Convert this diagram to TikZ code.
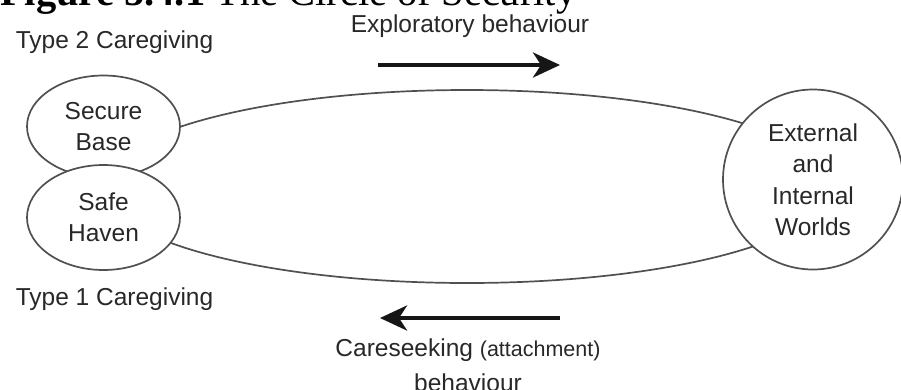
\documentclass[tikz,border=0pt]{standalone}
\usepackage{fontspec}
\setmainfont{Liberation Sans}
\newfontfamily\titlefont{Liberation Serif}
\usetikzlibrary{arrows.meta,shapes.geometric}
\definecolor{txtgray}{RGB}{40,40,40}
\definecolor{linegray}{RGB}{80,80,80}
\definecolor{arrowblack}{RGB}{22,22,22}
\begin{document}
\begin{tikzpicture}[x=1pt,y=-1pt,
  lbl/.style={font=\fontsize{24.5}{31}\selectfont, text=txtgray, inner sep=0pt},
  bubble/.style={ellipse, draw=linegray, line width=1.7pt, fill=white,
    inner sep=0pt, font=\fontsize{24.5}{31}\selectfont, text=txtgray, align=center},
  flow/.style={draw=arrowblack, line width=4pt,
    -{Stealth[length=27pt,width=25pt,inset=8pt]}},
]
% canvas
\fill[white] (0,0) rectangle (901,389);
\useasboundingbox (0,0) rectangle (901,389);
\clip (0,0) rectangle (901,389);

% title
\node[anchor=base west, inner sep=0pt, text=black,
      font=\titlefont\fontsize{40.5}{48}\selectfont] (title) at (0,5)
  {{\bfseries Figure 5.4.1} The Circle of Security};

% the circuit running between the caregiver and the world
\node[ellipse, draw=linegray, line width=1.7pt, inner sep=0pt,
      minimum width=730pt, minimum height=193pt] (circuit) at (467,186.5) {};

% caregiver roles and the world
\node[bubble, minimum width=153pt, minimum height=102pt] (secure) at (103.5,126.5)
  {Secure\\Base};
\node[bubble, minimum width=153pt, minimum height=105pt] (haven) at (103.5,217.5)
  {Safe\\Haven};
\node[circle, draw=linegray, line width=1.7pt, fill=white, inner sep=0pt,
      minimum size=180pt, font=\fontsize{24.5}{31.5}\selectfont, text=txtgray,
      align=center] (world) at (813,179.5)
  {External\\and\\Internal\\Worlds};

% side labels
\node[lbl, anchor=base] (type2) at (114.5,48) {Type 2 Caregiving};
\node[lbl, anchor=base] (type1) at (114.5,305) {Type 1 Caregiving};

% direction of movement
\node[lbl, anchor=base] (explore) at (470,32) {Exploratory behaviour};
\coordinate (exA) at (378,65);
\coordinate (exB) at (560,65);
\draw[flow] (exA) -- (exB);

\coordinate (csA) at (560,318);
\coordinate (csB) at (380,318);
\draw[flow] (csA) -- (csB);
\node[lbl, align=center, font=\fontsize{24.5}{35}\selectfont] (careseek) at (468,365.5)
  {Careseeking {\fontsize{21.5}{26}\selectfont(attachment)}\\behaviour};
\end{tikzpicture}
\end{document}
